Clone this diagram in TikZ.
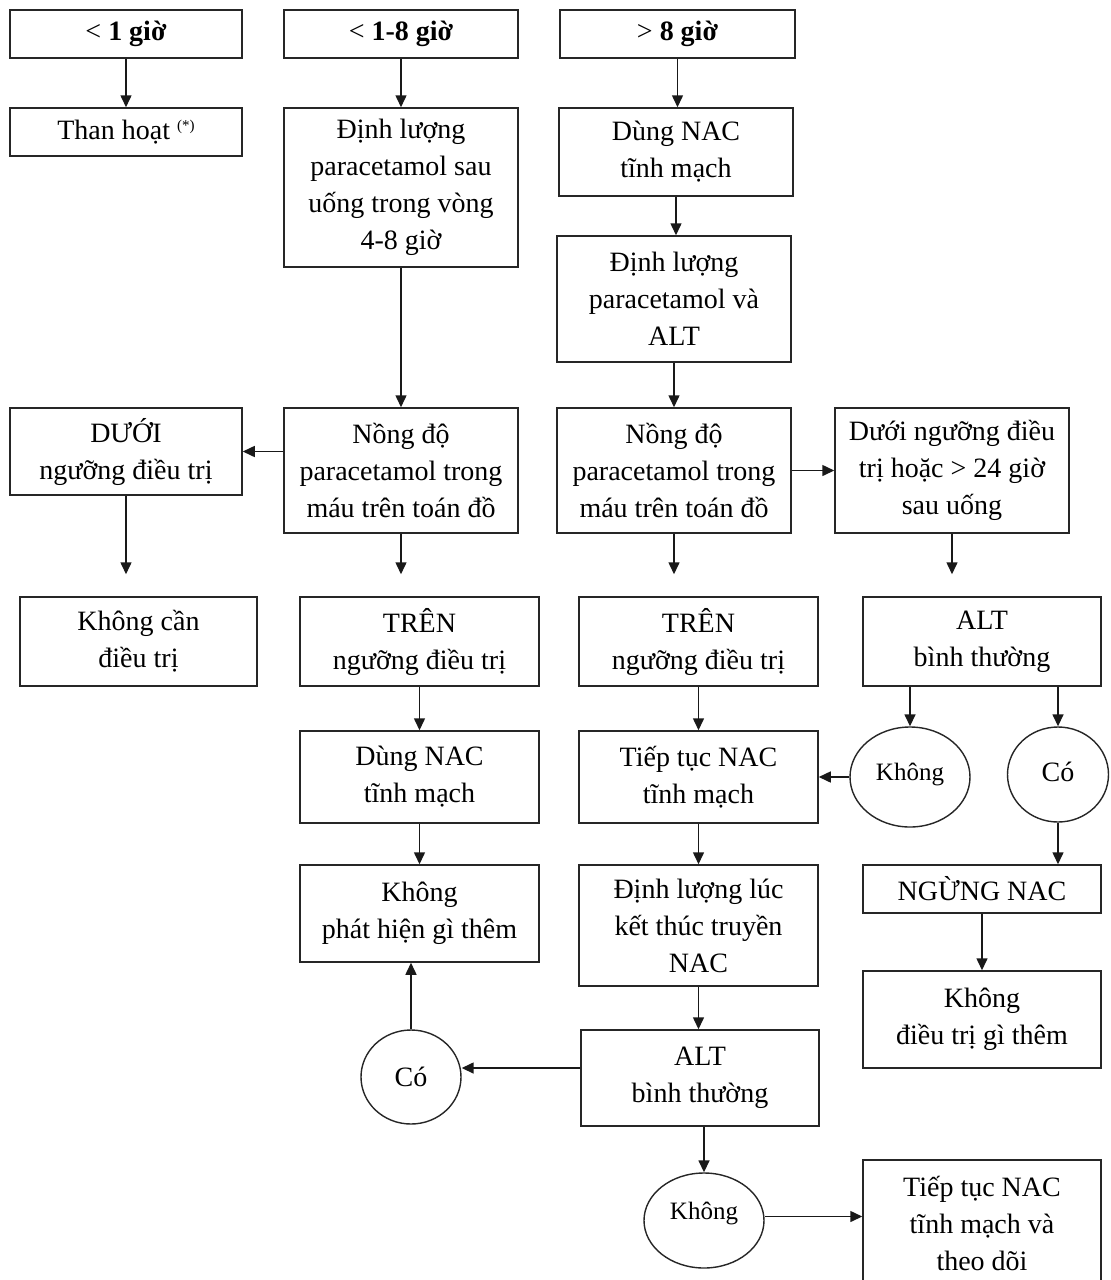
\documentclass[tikz,border=0pt]{standalone}
\usepackage{fontspec}
\setmainfont{Liberation Serif}
\usetikzlibrary{arrows.meta,shapes.geometric}
\begin{document}
\begin{tikzpicture}[x=1pt,y=-1pt,
  box/.style={draw=black!85,line width=1.5pt,inner sep=0pt,align=center,font=\fontsize{28}{37}\selectfont},
  oval/.style={ellipse,draw=black!85,line width=1.4pt,inner sep=0pt,align=center},
  arr/.style={draw=black!90,line width=1.5pt,-{Triangle[length=12pt,width=11pt]}},
  gap/.style={shorten >=22pt}]
\fill[white] (0,0) rectangle (1111,1280);
\useasboundingbox (0,0) rectangle (1111,1280);
% headers
\node[box,minimum width=232,minimum height=48] (h1) at (126,34) {< \textbf{1 giờ}};
\node[box,minimum width=234,minimum height=48] (h2) at (401,34) {< \textbf{1-8 giờ}};
\node[box,minimum width=235,minimum height=48] (h3) at (677.5,34) {> \textbf{8 giờ}};
% row 2
\node[box,minimum width=232,minimum height=48] (a1) at (126,132) {Than hoạt \raisebox{0.7ex}{\fontsize{15}{15}\selectfont(*)}};
\node[box,minimum width=234,minimum height=159] (b1) at (401,187.5) {Định lượng\\paracetamol sau\\uống trong vòng\\4-8 giờ};
\node[box,minimum width=234,minimum height=88] (c1) at (676,152) {Dùng NAC\\tĩnh mạch};
\node[box,minimum width=234,minimum height=126] (c2) at (674,299) {Định lượng\\paracetamol và\\ALT};
% row 4
\node[box,minimum width=232,minimum height=87] (d1) at (126,451.5) {DƯỚI\\ngưỡng điều trị};
\node[box,minimum width=234,minimum height=125] (b2) at (401,470.5) {Nồng độ\\paracetamol trong\\máu trên toán đồ};
\node[box,minimum width=234,minimum height=125] (c3) at (674,470.5) {Nồng độ\\paracetamol trong\\máu trên toán đồ};
\node[box,minimum width=234,minimum height=125] (d2) at (952,470.5) {Dưới ngưỡng điều\\trị hoặc > 24 giờ\\sau uống};
% row 5
\node[box,minimum width=237,minimum height=89] (e1) at (138.5,641.5) {Không cần\\điều trị};
\node[box,minimum width=239,minimum height=89] (e2) at (419.5,641.5) {TRÊN\\ngưỡng điều trị};
\node[box,minimum width=239,minimum height=89] (e3) at (698.5,641.5) {TRÊN\\ngưỡng điều trị};
\node[box,minimum width=238,minimum height=89] (e4) at (982,641.5) {ALT\\bình thường};
% row 6
\node[box,minimum width=239,minimum height=92] (f1) at (419.5,777) {Dùng NAC\\tĩnh mạch};
\node[box,minimum width=239,minimum height=92] (f2) at (698.5,777) {Tiếp tục NAC\\tĩnh mạch};
\node[oval,minimum width=120,minimum height=100,font=\fontsize{25}{30}\selectfont,text height=18pt,text depth=12pt] (k1) at (910,777) {Không};
\node[oval,minimum width=101,minimum height=95,font=\fontsize{28}{30}\selectfont,text height=20pt,text depth=6pt] (y1) at (1058,774.5) {Có};
% row 7
\node[box,minimum width=239,minimum height=97] (g1) at (419.5,913.5) {Không\\phát hiện gì thêm};
\node[box,minimum width=239,minimum height=121] (g2) at (698.5,925.5) {Định lượng lúc\\kết thúc truyền\\NAC};
\node[box,minimum width=238,minimum height=48] (g3) at (982,889) {NGỪNG NAC};
\node[box,minimum width=238,minimum height=97] (g4) at (982,1019.5) {Không\\điều trị gì thêm};
% row 8
\node[oval,minimum width=100,minimum height=94,font=\fontsize{28}{30}\selectfont] (y2) at (411,1077) {Có};
\node[box,minimum width=238,minimum height=96] (al) at (700,1078) {ALT\\bình thường};
% row 9
\node[oval,minimum width=120,minimum height=95,font=\fontsize{25}{30}\selectfont,text height=18pt,text depth=20pt] (k2) at (704,1220.5) {Không};
\node[box,minimum width=238,minimum height=126] (t1) at (982,1223) {Tiếp tục NAC\\tĩnh mạch và\\theo dõi};
% connectors
\draw[arr] (h1.south) -- (a1.north);
\draw[arr] (h2.south) -- (b1.north);
\draw[arr] (h3.south) -- (h3.south |- c1.north);
\draw[arr] (c1.south) -- (c1.south |- c2.north);
\draw[arr] (b1.south) -- (b2.north);
\draw[arr] (c2.south) -- (c2.south |- c3.north);
\draw[arr] (b2.west |- d1.east) -- (d1.east);
\draw[arr] (c3.east) -- (d2.west);
\draw[arr,gap] (d1.south) -- (d1.south |- e1.north);
\draw[arr,gap] (b2.south) -- (b2.south |- e2.north);
\draw[arr,gap] (c3.south) -- (c3.south |- e3.north);
\draw[arr,gap] (d2.south) -- (d2.south |- e4.north);
\draw[arr] (e2.south) -- (f1.north);
\draw[arr] (e3.south) -- (f2.north);
\draw[arr] (k1.north |- e4.south) -- (k1.north);
\draw[arr] (y1.north |- e4.south) -- (y1.north);
\draw[arr] (k1.west) -- (k1.west -| f2.east);
\draw[arr] (y1.south) -- (y1.south |- g3.north);
\draw[arr] (g3.south) -- (g4.north);
\draw[arr] (f1.south) -- (g1.north);
\draw[arr] (f2.south) -- (g2.north);
\draw[arr] (g2.south) -- (g2.south |- al.north);
\draw[arr] ([yshift=10pt]al.west) -- ([yshift=10pt]al.west -| y2.east);
\draw[arr] (y2.north) -- (y2.north |- g1.south);
\draw[arr] (al.south -| k2.north) -- (k2.north);
\draw[arr] ([yshift=4pt]k2.east) -- ([yshift=4pt]k2.east -| t1.west);
\end{tikzpicture}
\end{document}
